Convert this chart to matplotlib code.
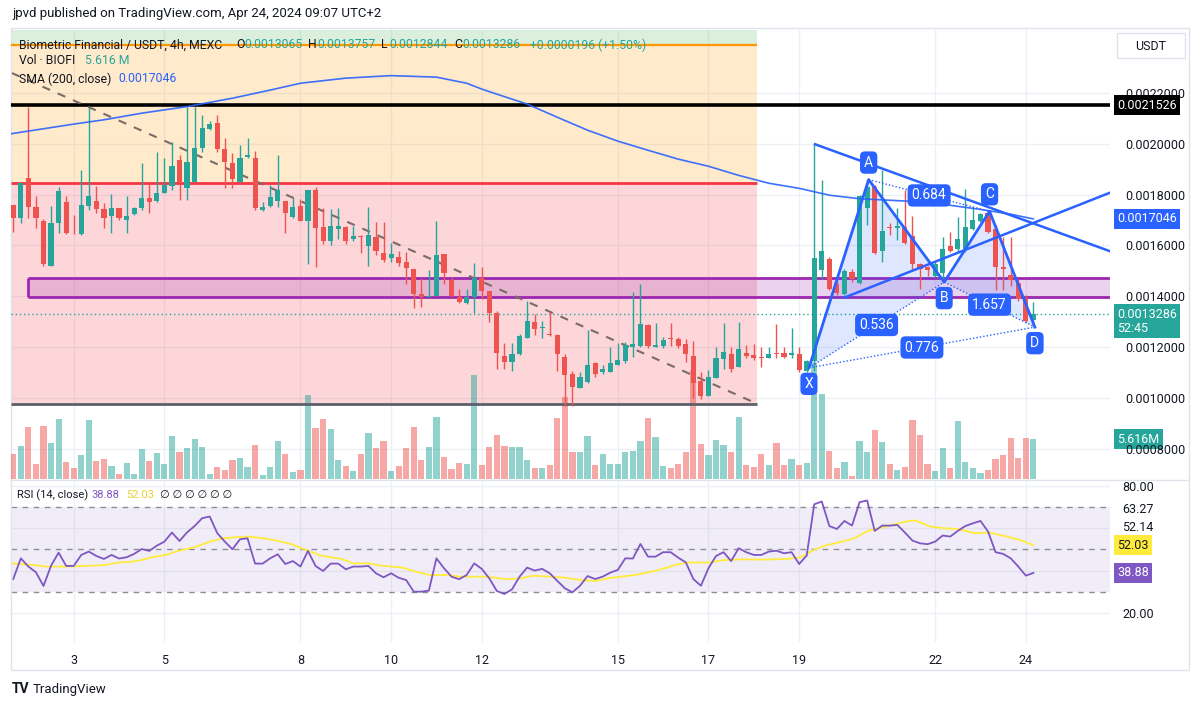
import matplotlib
matplotlib.use('Agg')
import matplotlib.pyplot as plt
from matplotlib.patches import Rectangle
from matplotlib.lines import Line2D

W, H = 1200, 707
plt.rcParams['font.family'] = ['Roboto', 'DejaVu Sans']

UP = '#26a69a'
DOWN = '#ef5350'
BLUE = '#2962ff'
DARK = '#131722'

# --- 4h candles, prices in units of 1e-7 USDT ---
UNIT = 1e-7
opens = [17580, 17070, 18650, 17500, 16950, 15180, 16870, 17700, 16500, 16440,
         17540, 17740, 17420, 17150, 17460, 17000, 17230, 17460, 17860, 17740,
         18060, 18330, 19360, 18250, 18490, 19830, 20580, 20820, 19790, 19240,
         18490, 19480, 19430, 17380, 17540, 17740, 17740, 17110, 17540, 16950,
         18170, 16710, 16160, 16630, 16710, 16240, 16360, 15960, 16320, 15690,
         15490, 15530, 15330, 15060, 14070, 13960, 14000, 15650, 14620, 13960,
         13720, 13960, 14700, 14190, 13320, 11660, 11390, 11740, 12370, 13000,
         12730, 12530, 12490, 11590, 10950, 10400, 10640, 11350, 11000, 11000,
         11310, 11430, 12000, 12020, 12850, 12000, 12020, 12370, 12330, 12100,
         11660, 10680, 10050, 10760, 11510, 11740, 11230, 11780, 11700, 11600,
         11550, 11780, 11780, 11700, 11740, 11070, 11430, 15020, 15450, 14470,
         14070, 14940, 14540, 17460, 18290, 15770, 16710, 16670, 16710, 16360,
         15250, 15140, 14780, 14900, 15960, 15850, 15850, 16630, 16950, 17270,
         16630, 15140, 14820, 14540, 13910, 13065]
highs = [17600, 18450, 21450, 17940, 17030, 17540, 18290, 17940, 17190, 18960,
         21450, 18330, 17660, 18020, 17460, 17940, 17500, 19240, 18450, 19670,
         19430, 20070, 19550, 21450, 21450, 21130, 20900, 21130, 20220, 19630,
         19950, 20220, 19710, 17700, 18370, 19550, 17750, 17860, 17820, 18200,
         18290, 17460, 17420, 17460, 16750, 16750, 16400, 17500, 16910, 16910,
         16080, 15770, 15730, 15060, 14700, 15020, 16950, 15650, 14750, 14270,
         14270, 15290, 15140, 14190, 13400, 12140, 12140, 12500, 13800, 13280,
         13040, 13360, 12500, 11740, 11070, 11000, 12650, 11390, 11300, 12000,
         12140, 12180, 14150, 14500, 12900, 12930, 12400, 12930, 12400, 12330,
         12220, 11000, 11110, 12000, 12930, 12000, 13000, 12060, 12100, 12000,
         12000, 12890, 12000, 12730, 12000, 11500, 20000, 18570, 15530, 14750,
         15060, 15060, 18000, 18570, 18370, 18960, 16870, 17460, 18170, 17150,
         15290, 15200, 15330, 16320, 16520, 17110, 18210, 17500, 17270, 17380,
         16800, 16320, 16320, 14660, 14030, 13757]
lows = [16520, 16870, 17100, 16670, 15180, 15180, 16480, 16450, 16450, 16400,
        17380, 17270, 16670, 16480, 17000, 16480, 17200, 17380, 17270, 17700,
        18060, 18170, 17780, 17780, 18490, 19670, 20540, 19670, 18250, 18250,
        18490, 19430, 17380, 17350, 17500, 17500, 16480, 17070, 16950, 15250,
        15140, 16040, 16000, 16240, 16040, 16160, 15690, 15210, 15610, 15330,
        15330, 15210, 14500, 13520, 13560, 13960, 14000, 14500, 13960, 13720,
        13680, 13320, 13910, 13000, 11150, 11150, 11070, 11700, 12370, 12490,
        12370, 12450, 11070, 9690, 9690, 10400, 10600, 10830, 10950, 11000,
        11310, 11350, 11620, 12000, 11980, 12000, 11980, 12020, 11980, 11390,
        10010, 9970, 10050, 10760, 11150, 11000, 11230, 11550, 11470, 11230,
        11550, 11550, 11550, 11580, 11030, 11030, 11070, 14660, 14230, 14030,
        14030, 14550, 14500, 16800, 15650, 15330, 16400, 16200, 16040, 15020,
        14300, 14800, 14750, 14540, 15730, 15730, 15730, 16600, 16910, 16480,
        14230, 14230, 14400, 13830, 13000, 12844]
closes = [17070, 18450, 17500, 17070, 15250, 16870, 18130, 16480, 16480, 17580,
          17940, 17420, 17070, 17460, 17070, 17150, 17460, 17860, 17700, 18060,
          18370, 19120, 18490, 19280, 19830, 20620, 20780, 19790, 19280, 18610,
          19430, 19550, 17460, 17500, 17900, 18170, 17270, 17500, 16950, 18170,
          16670, 16160, 16750, 16750, 16160, 16360, 16320, 16400, 15770, 15410,
          15650, 15290, 15100, 14070, 13960, 14000, 15610, 14900, 14000, 13760,
          13960, 14700, 14190, 13320, 11780, 11390, 11740, 12450, 13040, 12690,
          12800, 12490, 11740, 10910, 10440, 10800, 11310, 10950, 11150, 11350,
          11470, 12060, 12100, 12890, 12020, 12060, 12290, 12330, 12020, 11740,
          10600, 10050, 10800, 11550, 11820, 11150, 11940, 11660, 11550, 11580,
          11740, 11740, 11620, 11780, 11110, 11430, 15490, 15770, 14300, 14110,
          14980, 14660, 17940, 18290, 15690, 16560, 16670, 16750, 16080, 15250,
          15060, 15020, 15250, 15850, 15770, 16240, 16710, 17000, 17230, 16520,
          15140, 15060, 14620, 13910, 13040, 13286]
# volume, millions of BIOFI
volumes = [3.54, 4.72, 7.32, 2.12, 7.55, 5.10, 8.50, 2.36, 1.56, 3.45,
           8.35, 2.50, 2.83, 1.89, 0.71, 2.27, 0.71, 4.25, 2.50, 3.68,
           2.12, 6.14, 3.78, 4.34, 5.66, 4.58, 0.71, 1.65, 1.27, 2.69,
           2.97, 1.65, 4.86, 0.61, 1.75, 5.33, 3.54, 0.94, 1.32, 11.89,
           7.22, 8.50, 7.08, 2.74, 1.89, 1.18, 3.54, 6.51, 4.39, 5.33,
           1.09, 1.89, 4.39, 7.41, 2.74, 4.48, 8.83, 3.07, 1.42, 2.27,
           2.12, 14.73, 2.03, 4.48, 6.28, 4.72, 4.48, 4.48, 2.74, 1.56,
           1.56, 2.03, 8.64, 11.56, 3.78, 3.78, 6.04, 2.03, 3.54, 2.12,
           2.12, 3.78, 3.92, 5.33, 8.59, 5.99, 1.79, 1.56, 2.12, 3.78,
           15.43, 4.96, 3.45, 5.52, 4.86, 3.78, 8.73, 2.03, 1.65, 3.54,
           2.03, 5.10, 2.03, 2.78, 1.94, 2.22, 16.43, 11.99, 3.96, 1.60,
           2.41, 0.42, 5.38, 3.87, 6.94, 5.29, 2.08, 1.27, 1.70, 8.35,
           6.23, 2.08, 1.13, 4.34, 1.51, 8.21, 2.45, 1.51, 0.90, 1.27,
           2.78, 3.40, 5.76, 2.93, 5.76, 5.616]

rsi = [36.0, 45.8, 41.9, 39.2, 32.7, 42.3, 48.5, 42.2, 42.2, 47.4,
       49.0, 46.9, 45.5, 47.4, 45.7, 46.3, 47.9, 50.2, 49.3, 51.8,
       53.7, 58.0, 54.0, 58.1, 61.1, 64.8, 65.6, 57.7, 53.7, 50.1,
       54.8, 55.3, 43.3, 43.3, 45.8, 47.7, 43.1, 44.5, 41.9, 49.3,
       42.2, 39.8, 43.3, 43.3, 40.6, 41.9, 41.9, 42.2, 38.7, 36.8,
       38.7, 36.6, 35.5, 30.0, 30.0, 30.5, 45.8, 41.1, 37.1, 35.9,
       37.9, 43.4, 40.8, 36.3, 30.3, 28.9, 31.1, 37.1, 41.4, 40.0,
       40.8, 38.7, 35.1, 31.6, 29.7, 32.8, 37.4, 36.0, 37.1, 39.0,
       40.3, 45.8, 45.7, 52.6, 46.6, 46.6, 48.7, 48.7, 46.1, 43.9,
       36.0, 32.8, 41.1, 46.9, 48.7, 44.5, 50.6, 48.7, 47.4, 47.4,
       49.0, 49.4, 48.2, 48.7, 43.1, 47.1, 71.4, 72.7, 61.1, 59.7,
       63.5, 61.3, 72.4, 73.2, 58.8, 61.3, 61.3, 61.6, 58.0, 54.2,
       52.9, 52.5, 53.7, 56.6, 56.1, 58.8, 61.1, 62.4, 63.5, 58.5,
       48.7, 47.9, 45.8, 41.9, 37.6, 38.88]
rsi_ma_x = [-0.1, 2.7, 4.3, 7.2, 10.3, 12.1, 13.9, 15.7, 17.0, 18.4, 20.2, 21.5,
            24.2, 26.0, 27.8, 29.6, 31.1, 33.1, 34.9, 36.7, 38.5, 40.7, 43.4,
            45.0, 47.0, 48.8, 51.5, 53.3, 55.1, 57.3, 59.1, 62.7, 65.3, 67.1,
            68.8, 71.1, 73.1, 75.1, 77.1, 79.1, 82.3, 84.9, 88.1, 89.4, 92.1,
            93.9, 96.1, 99.3, 102.4, 104.2, 106.0, 107.3, 110.0, 111.3, 113.1,
            114.5, 116.3, 118.5, 119.4, 121.4, 123.4, 125.2, 127.2, 129.2,
            131.5, 133.2, 135.0]
rsi_ma = [43.4, 42.6, 41.9, 41.9, 42.3, 42.6, 43.8, 44.2, 45.0, 46.4, 47.4, 49.0,
          51.3, 53.7, 55.3, 55.8, 56.1, 55.3, 54.2, 52.6, 50.1, 47.1, 45.5,
          43.4, 43.4, 42.3, 41.4, 39.5, 37.9, 37.9, 37.1, 37.1, 35.9, 36.3,
          37.6, 37.1, 36.6, 35.4, 35.1, 36.6, 37.9, 39.8, 43.1, 43.8, 43.8,
          44.9, 45.3, 45.2, 45.5, 46.3, 49.8, 51.7, 54.0, 55.3, 58.8,
          60.0, 61.6, 63.5, 63.7, 60.8, 60.0, 59.6, 57.7, 58.0,
          56.1, 54.5, 52.03]

# SMA(200)
sma_x = [-0.3, 8, 12, 17, 23, 29, 34, 38, 44, 50, 56, 60, 62, 64, 68, 72, 76,
         80, 84, 88, 92, 96, 100, 104, 108, 112, 116, 120, 124, 128, 132, 135]
sma = [0.002040, 0.002078, 0.002095, 0.002121, 0.002147, 0.002180, 0.002212,
       0.002239, 0.002259, 0.002269, 0.002263, 0.002239, 0.002216, 0.002196,
       0.002157, 0.002105, 0.002054, 0.002011, 0.001975, 0.001940, 0.001912,
       0.001876, 0.001845, 0.001825, 0.001798, 0.001784, 0.001778, 0.001772,
       0.001758, 0.001742, 0.001723, 0.0017046]

day_ticks = [8, 20, 38, 50, 62, 80, 92, 104, 122, 134]
day_labels = ['3', '5', '8', '10', '12', '15', '17', '19', '22', '24']
price_ticks = [0.0008, 0.0010, 0.0012, 0.0014, 0.0016, 0.0018, 0.0020, 0.0022]

# drawings
zone_end = 98.4
zone_top, zone_mid, zone_low = 0.0023895, 0.0018448, 0.0009764
box_left, box_hi, box_lo = 1.95, 0.0014714, 0.0013952
level_black = 0.0021526
last_price = 0.0013286
dash_line = ([-0.17, 98.4], [0.002279, 0.000977])
trend1 = ([106.1, 146], [0.0019987, 0.0015680])
trend2 = ([110.0, 146], [0.0013948, 0.0018180])

pat_names = ['X', 'A', 'B', 'C', 'D']
pat_x = [105.3, 113.2, 123.2, 129.2, 135.2]
pat_y = [0.0011179, 0.0018595, 0.0014556, 0.0017345, 0.0012781]
pat_ratios = [('0.536', 0, 2), ('0.684', 1, 3), ('1.657', 2, 4), ('0.776', 0, 4)]

XLIM = (-0.3, 145.14)
PLIM = (0.0006800, 0.0024487)
RLIM = (6.16, 82.9)
VOL_TOP = 63.5


def rect(x0, y0, x1, y1):
    return [x0 / W, 1 - y1 / H, (x1 - x0) / W, (y1 - y0) / H]


def ftext(x, y, s, **kw):
    kw.setdefault('fontsize', 8.8)
    kw.setdefault('color', DARK)
    fig.text(x / W, 1 - y / H, s, va='center', **kw)


def side_label(axis, value, text, fc, tc='white', dy=0):
    axis.annotate(text, xy=(1, value), xycoords=axis.get_yaxis_transform(),
                  xytext=(7, dy), textcoords='offset pixels', ha='left',
                  va='center', fontsize=9, color=tc, linespacing=1.1,
                  bbox=dict(boxstyle='square,pad=0.28', fc=fc, ec='none'),
                  annotation_clip=False, zorder=20)


fig = plt.figure(figsize=(W / 100, H / 100), dpi=100)

main_rect = rect(11, 30, 1110, 479)
bg = fig.add_axes(main_rect, zorder=0)
vax = fig.add_axes(main_rect, zorder=1, sharex=bg)
ax = fig.add_axes(main_rect, zorder=2, sharex=bg)
rax = fig.add_axes(rect(11, 480, 1110, 642), zorder=0, sharex=bg)

for a in (bg, vax, ax, rax):
    for s in a.spines.values():
        s.set_visible(False)
    a.tick_params(bottom=False, labelbottom=False, left=False, labelleft=False,
                  right=False, labelright=False)
vax.patch.set_visible(False)
ax.patch.set_visible(False)

bg.set_xlim(*XLIM)
bg.set_ylim(*PLIM)
ax.set_ylim(*PLIM)
vax.set_ylim(0, VOL_TOP)
rax.set_ylim(*RLIM)

# grid
for t in day_ticks:
    bg.axvline(t, color='#eef0f5', lw=1, zorder=0)
    rax.axvline(t, color='#eef0f5', lw=1, zorder=0)
for p in price_ticks:
    bg.axhline(p, color='#eef0f5', lw=1, zorder=0)
for v in (20, 40, 60, 80):
    rax.axhline(v, color='#eef0f5', lw=1, zorder=0)

# zones
bg.add_patch(Rectangle((XLIM[0], zone_top), zone_end - XLIM[0], PLIM[1] - zone_top,
                       fc='#4caf50', alpha=0.2, lw=0, zorder=1))
bg.add_patch(Rectangle((XLIM[0], zone_mid), zone_end - XLIM[0], zone_top - zone_mid,
                       fc='#ff9800', alpha=0.2, lw=0, zorder=1))
bg.add_patch(Rectangle((XLIM[0], zone_low), zone_end - XLIM[0], zone_mid - zone_low,
                       fc='#f23645', alpha=0.2, lw=0, zorder=1))
bg.add_patch(Rectangle((box_left, box_lo), 150, box_hi - box_lo,
                       fc='#9c27b0', alpha=0.2, lw=0, zorder=2))

# volume
vcol = [UP if c >= o else DOWN for o, c in zip(opens, closes)]
vax.bar(range(len(volumes)), volumes, width=0.82, color=vcol, alpha=0.5, lw=0)

# level lines
ax.hlines(zone_top, XLIM[0], zone_end, color='#ff9800', lw=1.6, zorder=2)
ax.hlines(zone_mid, XLIM[0], zone_end, color='#f23645', lw=2, zorder=2)
ax.hlines(zone_low, XLIM[0], zone_end, color='#5d606b', lw=2, zorder=2)
ax.hlines([box_hi, box_lo], box_left, 150, color='#9c27b0', lw=2, zorder=2)
ax.vlines(box_left, box_lo, box_hi, color='#9c27b0', lw=2, zorder=2)
ax.axhline(level_black, color='black', lw=2.6, zorder=2)
ax.axhline(last_price, color=UP, lw=1, ls=(0, (1, 2)), zorder=2)
ax.plot(dash_line[0], dash_line[1], color='#7b6b66', lw=1.5, ls=(0, (4, 4)), zorder=2)

# candles
for i, (o, h, l, c) in enumerate(zip(opens, highs, lows, closes)):
    col = UP if c >= o else DOWN
    o, h, l, c = o * UNIT, h * UNIT, l * UNIT, c * UNIT
    ax.vlines(i, l, h, color=col, lw=1, zorder=4)
    body = max(abs(c - o), 0.0000012)
    ax.bar(i, body, bottom=min(o, c), width=0.68, color=col, lw=0, zorder=5)

# SMA 200
ax.plot(sma_x, sma, color=BLUE, lw=1.2, alpha=0.9, zorder=6)

# harmonic pattern
ax.fill(pat_x[:3], pat_y[:3], color=BLUE, alpha=0.15, lw=0, zorder=3)
ax.fill(pat_x[2:], pat_y[2:], color=BLUE, alpha=0.15, lw=0, zorder=3)
ax.plot(pat_x, pat_y, color=BLUE, lw=2, zorder=7)
for txt, a, b in pat_ratios:
    ax.plot([pat_x[a], pat_x[b]], [pat_y[a], pat_y[b]], color=BLUE, lw=1,
            ls=(0, (1, 1.5)), zorder=7)
ax.plot(*trend1, color=BLUE, lw=1.8, zorder=7)
ax.plot(*trend2, color=BLUE, lw=1.8, zorder=7)
for k, name in enumerate(pat_names):
    off = 17 if name in ('A', 'C') else -16
    ax.annotate(name, (pat_x[k], pat_y[k]), xytext=(0, off), textcoords='offset pixels',
                ha='center', va='center', color='white', fontsize=10,
                bbox=dict(boxstyle='round,pad=0.3,rounding_size=0.35', fc=BLUE, ec='none'),
                zorder=9)
for txt, a, b in pat_ratios:
    ax.text((pat_x[a] + pat_x[b]) / 2, (pat_y[a] + pat_y[b]) / 2, txt,
            ha='center', va='center', color='white', fontsize=10, zorder=9,
            bbox=dict(boxstyle='round,pad=0.3,rounding_size=0.35', fc=BLUE, ec='none'))

ax.set_xlim(*XLIM)

# price scale
ax.yaxis.tick_right()
ax.set_yticks(price_ticks)
ax.set_yticklabels([f'{p:.7f}' for p in price_ticks])
ax.tick_params(right=False, labelright=True, length=0, pad=11, labelsize=9,
               labelcolor=DARK)
side_label(ax, level_black, '0.0021526', 'black')
side_label(ax, sma[-1], '0.0017046', BLUE)
side_label(ax, last_price, '0.0013286\n52:45', UP, dy=-7)
side_label(vax, volumes[-1], '5.616M', UP)

# RSI pane
rax.axhspan(30, 70, color='#7e57c2', alpha=0.1, lw=0, zorder=1)
for v in (70, 50, 30):
    rax.axhline(v, color='#8a8d96', lw=1, ls=(0, (4, 4)), zorder=2)
rax.plot(rsi_ma_x, rsi_ma, color='#ffeb3b', lw=1.3, zorder=3)
rax.plot(range(len(rsi)), rsi, color='#7e57c2', lw=1.3, zorder=4)
rax.yaxis.tick_right()
rax.set_yticks([20, 80])
rax.set_yticklabels(['20.00', '80.00'])
rax.tick_params(right=False, labelright=True, length=0, pad=11, labelsize=9,
                labelcolor=DARK)
for v, s in ((68.7, '63.27'), (60.2, '52.14')):
    rax.text(1.0 + 12 / 1099, v, s, transform=rax.get_yaxis_transform(), ha='left',
             va='center', fontsize=9, color=DARK)
side_label(rax, rsi_ma[-1], '52.03', '#ffeb3b', tc=DARK)
side_label(rax, rsi[-1], '38.88', '#7e57c2')
rax.set_xticks(day_ticks)
rax.set_xticklabels(day_labels)
rax.tick_params(bottom=False, labelbottom=True, length=0, pad=9, labelsize=9,
                labelcolor=DARK)
rax.set_xlim(*XLIM)

# frame
fig.add_artist(Rectangle((11 / W, 1 - 670 / H), 1178 / W, 642 / H, transform=fig.transFigure,
                         fill=False, ec='#e0e3eb', lw=1))
fig.add_artist(Line2D([11 / W, 1189 / W], [1 - 479.5 / H] * 2, color='#e0e3eb', lw=1))
fig.add_artist(Rectangle((1117 / W, 1 - 58 / H), 68 / W, 25 / H, transform=fig.transFigure,
                         fc='white', ec='#e0e3eb', lw=1))
ftext(1151, 46, 'USDT', ha='center', fontsize=9)

# legends
ftext(12, 14, 'jpvd published on TradingView.com, Apr 24, 2024 09:07 UTC+2', fontsize=9.5)
row1 = [(19, 'Biometric Financial / USDT, 4h, MEXC', DARK), (236, 'O', DARK),
        (244, '0.0013065', UP), (308, 'H', DARK), (317, '0.0013757', UP),
        (381, 'L', DARK), (389, '0.0012844', UP), (454, 'C', DARK),
        (462, '0.0013286', UP), (530, '+0.0000196 (+1.50%)', UP)]
for x, s, c in row1:
    ftext(x, 45, s, color=c)
ftext(19, 61, 'Vol · BIOFI', color=DARK)
ftext(85, 61, '5.616 M', color=UP)
ftext(19, 79, 'SMA (200, close)', color=DARK)
ftext(118, 79, '0.0017046', color=BLUE)
ftext(17, 495, 'RSI (14, close)', color=DARK, fontsize=8)
ftext(92, 495, '38.88', color='#7e57c2', fontsize=8)
ftext(126, 495, '52.03', color='#e6d232', fontsize=8)
ftext(160, 495, '∅ ∅ ∅ ∅ ∅ ∅', color=DARK, fontsize=8)
ftext(12, 689, 'TV', fontsize=10, fontweight='bold')
ftext(33, 689, 'TradingView', fontsize=9.5)

fig.savefig('out.png', dpi=100)
